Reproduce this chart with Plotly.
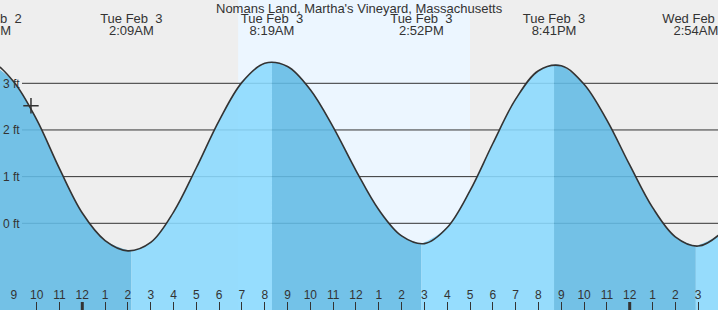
import pandas as pd
import plotly.graph_objects as go

# ---------------- data ----------------
title_text = "Nomans Land, Martha's Vineyard, Massachusetts"

extreme_times = ["2026-02-02 19:54", "2026-02-03 02:09", "2026-02-03 08:19",
                 "2026-02-03 14:52", "2026-02-03 20:41", "2026-02-04 02:54"]
extreme_heights = [3.46, -0.60, 3.46, -0.44, 3.40, -0.49]
extreme_kinds = ["H", "L", "H", "L", "H", "L"]

hour_times = pd.date_range("2026-02-02 19:00", "2026-02-04 05:00", freq="h")
hour_heights = [3.36, 3.45, 3.03, 2.22, 1.17, 0.22, -0.37, -0.59,
                -0.41, 0.24, 1.19, 2.20, 3.02, 3.43,
                3.36, 2.86, 2.06, 1.13, 0.29, -0.27,
                -0.435, -0.09, 0.70, 1.71, 2.66, 3.27,
                3.375, 2.98, 2.21, 1.25, 0.34, -0.29,
                -0.488, -0.21, 0.45]

sunrise = "2026-02-03 06:50"
sunset = "2026-02-03 17:00"
now_time = "2026-02-02 21:45"
now_height = 2.52

ytick_vals = [0, 1, 2, 3]
ytick_text = ["0 ft", "1 ft", "2 ft", "3 ft"]
x_range = ["2026-02-02 20:23:31", "2026-02-04 03:52:19"]
y_range = [-1.858, 4.785]
midnights = ["2026-02-03 00:00", "2026-02-04 00:00"]
tick_hours = pd.date_range("2026-02-02 21:00", "2026-02-04 03:00", freq="h")

# ---------------- styling ----------------
BG = "#eeeeee"
DAY = "#ecf6ff"
FALL = "rgba(98,187,229,0.88)"
RISE = "rgba(138,218,254,0.88)"
INK = "#333333"
FONT = "Liberation Sans, Arial, sans-serif"

ext = pd.DataFrame({"t": pd.to_datetime(extreme_times), "h": extreme_heights, "k": extreme_kinds})
hrs = pd.DataFrame({"t": hour_times, "h": hour_heights})

fig = go.Figure()

# filled areas, split at the turning points
bounds = list(ext["t"]) + [hrs["t"].iloc[-1]]
for i in range(len(bounds) - 1):
    t0, t1 = bounds[i], bounds[i + 1]
    inner = hrs[(hrs["t"] > t0 + pd.Timedelta(minutes=10)) & (hrs["t"] < t1 - pd.Timedelta(minutes=10))]
    seg = pd.concat([ext.loc[[i], ["t", "h"]], inner,
                     ext.loc[[i + 1], ["t", "h"]] if i + 1 < len(ext) else hrs.iloc[[-1]]])
    color = FALL if ext["k"].iloc[i] == "H" else RISE
    fig.add_trace(go.Scatter(x=[t0, t1], y=[-3, -3], mode="lines", line=dict(width=0),
                             hoverinfo="skip", showlegend=False))
    fig.add_trace(go.Scatter(x=seg["t"], y=seg["h"], mode="lines", line=dict(width=0, shape="spline"),
                             fill="tonexty", fillcolor=color, hoverinfo="skip", showlegend=False))

# outline through the evenly spaced hourly readings
fig.add_trace(go.Scatter(x=hrs["t"], y=hrs["h"], mode="lines",
                         line=dict(color=INK, width=1.6, shape="spline"),
                         hoverinfo="skip", showlegend=False))

fig.add_trace(go.Scatter(x=[pd.to_datetime(now_time)], y=[now_height], mode="markers",
                         marker=dict(symbol="cross-thin", size=11, line=dict(color=INK, width=1.5)),
                         showlegend=False, hoverinfo="skip"))


def day_label(dt):
    return f"{dt:%a %b}\u00a0\u00a0{dt.day}"


def time_label(dt):
    h = dt.hour % 12 or 12
    return f"{h}:{dt.minute:02d}{'AM' if dt.hour < 12 else 'PM'}"


fig.add_trace(go.Scatter(x=ext["t"], y=[4.367] * len(ext), mode="text",
                         text=[day_label(d) for d in ext["t"]], textposition="middle center",
                         textfont=dict(family=FONT, size=13, color=INK),
                         showlegend=False, hoverinfo="skip", cliponaxis=True))
fig.add_trace(go.Scatter(x=ext["t"], y=[4.099] * len(ext), mode="text",
                         text=[time_label(d) for d in ext["t"]], textposition="middle center",
                         textfont=dict(family=FONT, size=13, color=INK),
                         showlegend=False, hoverinfo="skip", cliponaxis=True))

# hour labels along the bottom
fig.add_trace(go.Scatter(x=list(tick_hours), y=[-1.56] * len(tick_hours), mode="text",
                         text=[str(t.hour % 12 or 12) for t in tick_hours], textposition="middle center",
                         textfont=dict(family=FONT, size=12, color=INK),
                         showlegend=False, hoverinfo="skip", cliponaxis=True))

shapes = [dict(type="rect", xref="x", yref="paper", x0=sunrise, x1=sunset, y0=0, y1=1,
               fillcolor=DAY, line=dict(width=0), layer="below")]
for v in ytick_vals:
    shapes.append(dict(type="line", xref="paper", yref="y", x0=22 / 718, x1=1, y0=v, y1=v,
                       line=dict(color=INK, width=1), layer="below"))
for m in midnights:
    shapes.append(dict(type="line", xref="x", yref="paper", x0=m, x1=m, y0=0, y1=8 / 310,
                       line=dict(color=INK, width=3), layer="above"))

fig.update_layout(
    width=718, height=310, margin=dict(l=0, r=0, t=0, b=0),
    paper_bgcolor=BG, plot_bgcolor=BG, showlegend=False,
    shapes=shapes,
    annotations=[dict(text=title_text, xref="paper", yref="paper", x=0.5, y=1, yanchor="top",
                      yshift=1, showarrow=False, font=dict(family=FONT, size=13, color=INK))],
    xaxis=dict(type="date", range=x_range, tickvals=list(tick_hours),
               ticks="inside", ticklen=8, tickwidth=1, tickcolor=INK,
               showticklabels=False, showgrid=False, zeroline=False, showline=False,
               fixedrange=True),
    yaxis=dict(range=y_range, tickvals=ytick_vals, ticktext=ytick_text, ticks="",
               ticklabelposition="inside", showgrid=False, zeroline=False, showline=False,
               tickfont=dict(family=FONT, size=12, color=INK), fixedrange=True),
)

fig.write_html("out.html")
